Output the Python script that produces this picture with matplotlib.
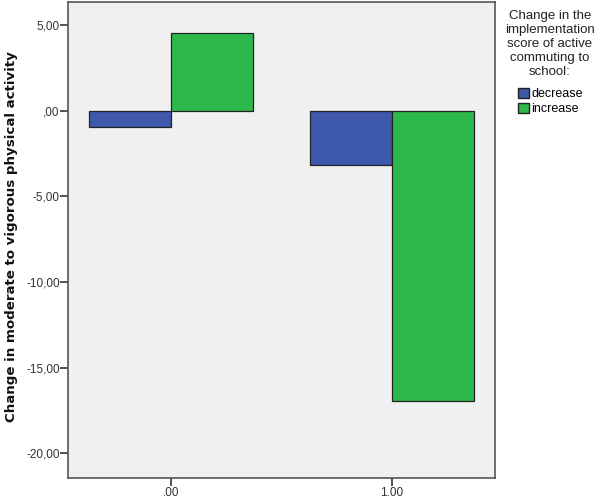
import matplotlib
matplotlib.use("Agg")
import matplotlib.pyplot as plt
import numpy as np
from matplotlib.patches import Patch

categories = [".00", "1.00"]
cat_pos = [0.0, 1.0]
series_names = ["decrease", "increase"]
decrease = [-0.94, -3.16]
increase = [4.53, -16.96]
yticks = [5, 0, -5, -10, -15, -20]
ytick_labels = ["5,00", ",00", "-5,00", "-10,00", "-15,00", "-20,00"]

plt.rcParams['font.family'] = ['Liberation Sans', 'DejaVu Sans']

W, H = 600, 499
fig = plt.figure(figsize=(W / 100, H / 100), dpi=100)
left, right, top, bottom = 68, 495, 2, 478
ax = fig.add_axes([left / W, 1 - bottom / H, (right - left) / W, (bottom - top) / H])
ax.set_facecolor('#F0F0F0')

bw = 0.371
blue = '#3E58AC'
green = '#2DB84B'
x = np.array(cat_pos)
ax.bar(x - bw / 2, decrease, width=bw, color=blue, edgecolor='#222222', linewidth=0.9, zorder=2)
ax.bar(x + bw / 2, increase, width=bw, color=green, edgecolor='#222222', linewidth=0.9, zorder=2)

ax.set_xlim(-0.466, 1.466)
ax.set_ylim(-21.46, 6.37)
ax.set_xticks(cat_pos)
ax.set_xticklabels(categories)
ax.set_yticks(yticks)
ax.set_yticklabels(ytick_labels)
ax.tick_params(axis='both', labelsize=8.5, colors='#333333', length=5.5, width=1.2, direction='out')
ax.tick_params(axis='y', pad=0.5)
ax.tick_params(axis='x', pad=1.0)
for s in ax.spines.values():
    s.set_color('#555555')
    s.set_linewidth(1.2)

fig.text(12 / W, 1 - 237 / H, "Change in moderate to vigorous physical activity",
         rotation=90, ha='center', va='center', fontsize=9.6, fontweight='bold', color='#111111',
         family=['DejaVu Sans'])

fig.text(550 / W, 1 - 44 / H,
         "Change in the\nimplementation\nscore of active\ncommuting to\nschool:",
         ha='center', va='center', fontsize=9.5, color='#222222', linespacing=1.2)

handles = [Patch(facecolor=blue, edgecolor='#222222', label=series_names[0]),
           Patch(facecolor=green, edgecolor='#222222', label=series_names[1])]
fig.legend(handles=handles, loc='upper left', bbox_to_anchor=(518 / W, 1 - 88 / H),
           frameon=False, fontsize=9, handlelength=0.85, handleheight=0.85,
           handletextpad=0.2, labelspacing=0.2, borderpad=0, borderaxespad=0)

fig.savefig("out.png", dpi=100, facecolor='white')
